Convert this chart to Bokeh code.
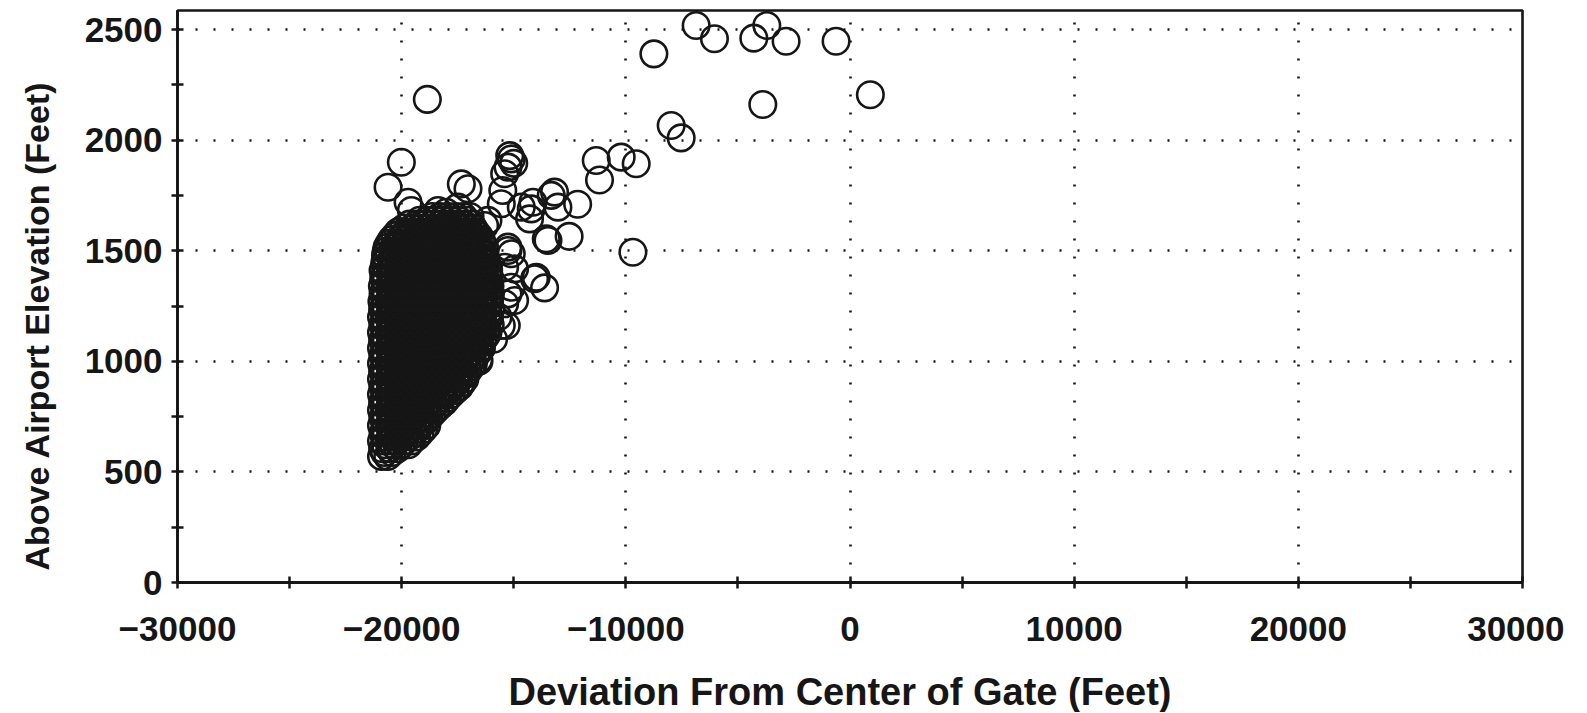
import math
from bokeh.plotting import figure
from bokeh.models import FixedTicker, Label, ColumnDataSource
from bokeh.layouts import row, column
from bokeh.embed import file_html
from bokeh.resources import INLINE

# ---- axis ticks ----
x_ticks = [-30000, -20000, -10000, 0, 10000, 20000, 30000]
x_tick_labels = ["\u221230000", "\u221220000", "\u221210000", "0", "10000", "20000", "30000"]
x_minor = [-25000, -15000, -5000, 5000, 15000, 25000]
y_ticks = [0, 500, 1000, 1500, 2000, 2500]
y_tick_labels = ["0", "500", "1000", "1500", "2000", "2500"]
y_minor = [250, 750, 1250, 1750, 2250]

x_title = "Deviation From Center of Gate (Feet)"
y_title = "Above Airport Elevation (Feet)"

# ---- dense cluster, read row by row (altitude -> deviations) ----
blob_y = [570, 605, 640, 675, 710, 745, 780, 815, 850, 885, 920, 955, 990, 1025,
          1060, 1095, 1130, 1165, 1200, 1235, 1270, 1305, 1340, 1375, 1410, 1445,
          1480, 1515, 1550, 1585, 1620, 1655]
blob_x = [
    [-20900, -20620],
    [-20850, -20520, -20180],
    [-20900, -20560, -20230, -19880, -19560],
    [-20830, -20480, -20140, -19800, -19460, -19180],
    [-20900, -20560, -20210, -19870, -19530, -19180, -18880],
    [-20840, -20490, -20150, -19800, -19460, -19110, -18790],
    [-20900, -20550, -20220, -19870, -19520, -19180, -18830, -18480],
    [-20850, -20500, -20160, -19810, -19460, -19120, -18770, -18420, -18100],
    [-20900, -20560, -20210, -19870, -19520, -19170, -18830, -18480, -18140, -17800],
    [-20840, -20500, -20150, -19800, -19460, -19110, -18760, -18420, -18070, -17730, -17420],
    [-20900, -20560, -20210, -19860, -19520, -19170, -18830, -18480, -18130, -17790, -17440, -17180],
    [-20850, -20500, -20150, -19810, -19460, -19120, -18770, -18420, -18080, -17730, -17390, -17050],
    [-20900, -20550, -20200, -19860, -19510, -19170, -18820, -18480, -18130, -17780, -17440, -17090, -16800],
    [-20840, -20490, -20150, -19800, -19460, -19110, -18760, -18420, -18070, -17730, -17380, -17040, -16700],
    [-20900, -20560, -20210, -19870, -19520, -19170, -18830, -18480, -18140, -17790, -17440, -17100, -16750, -16450],
    [-20850, -20500, -20160, -19810, -19470, -19120, -18780, -18430, -18080, -17740, -17390, -17050, -16700, -16380],
    [-20900, -20550, -20210, -19860, -19510, -19170, -18820, -18480, -18130, -17790, -17440, -17090, -16750, -16400, -16150],
    [-20840, -20500, -20150, -19810, -19460, -19110, -18770, -18420, -18080, -17730, -17390, -17040, -16690, -16350, -16050],
    [-20900, -20550, -20210, -19860, -19520, -19170, -18820, -18480, -18130, -17790, -17440, -17100, -16750, -16400, -16080],
    [-20850, -20500, -20160, -19810, -19470, -19120, -18780, -18430, -18090, -17740, -17390, -17050, -16700, -16360, -16030],
    [-20880, -20550, -20210, -19860, -19520, -19170, -18830, -18480, -18140, -17790, -17450, -17100, -16760, -16410, -16080],
    [-20830, -20490, -20150, -19800, -19460, -19110, -18770, -18420, -18080, -17730, -17390, -17040, -16700, -16350, -16040],
    [-20860, -20530, -20190, -19840, -19500, -19150, -18810, -18460, -18120, -17770, -17430, -17080, -16740, -16390, -16060],
    [-20800, -20470, -20130, -19780, -19440, -19090, -18750, -18400, -18060, -17710, -17370, -17020, -16680, -16340, -16100],
    [-20830, -20500, -20160, -19820, -19470, -19130, -18780, -18440, -18090, -17750, -17400, -17060, -16710, -16380, -16120],
    [-20760, -20430, -20090, -19750, -19400, -19060, -18710, -18370, -18020, -17680, -17330, -16990, -16650, -16330],
    [-20720, -20390, -20050, -19710, -19360, -19020, -18670, -18330, -17980, -17640, -17290, -16950, -16600, -16350],
    [-20650, -20330, -19990, -19650, -19300, -18960, -18610, -18270, -17920, -17580, -17230, -16890, -16560, -16300],
    [-20450, -20120, -19780, -19440, -19090, -18750, -18400, -18060, -17710, -17370, -17020, -16680, -16450],
    [-20150, -19800, -19460, -19110, -18770, -18420, -18080, -17730, -17390, -17040, -16700],
    [-19650, -19300, -18950, -18600, -18260, -17910, -17570, -17220, -16900],
    [-18650, -18300, -17950, -17600, -17250, -16950],
]

# in-between rows of the same cluster
blob2_y = [588, 623, 658, 693, 728, 763, 798, 833, 868, 903, 938, 973, 1008, 1043,
           1078, 1113, 1148, 1183, 1218, 1253, 1288, 1323, 1358, 1393, 1428, 1463,
           1498, 1533, 1568, 1603, 1638]
blob2_x = [
    [-20760, -20420],
    [-20720, -20370, -20020, -19700],
    [-20720, -20370, -20020, -19670, -19330],
    [-20720, -20370, -20020, -19670, -19320, -19020],
    [-20720, -20370, -20020, -19670, -19320, -18970],
    [-20720, -20370, -20020, -19670, -19320, -18970, -18640],
    [-20720, -20370, -20020, -19670, -19320, -18970, -18620, -18290],
    [-20720, -20370, -20020, -19670, -19320, -18970, -18620, -18270, -17960],
    [-20720, -20370, -20020, -19670, -19320, -18970, -18620, -18270, -17920, -17610],
    [-20720, -20370, -20020, -19670, -19320, -18970, -18620, -18270, -17920, -17570, -17300],
    [-20720, -20370, -20020, -19670, -19320, -18970, -18620, -18270, -17920, -17570, -17220],
    [-20720, -20370, -20020, -19670, -19320, -18970, -18620, -18270, -17920, -17570, -17220, -16920],
    [-20720, -20370, -20020, -19670, -19320, -18970, -18620, -18270, -17920, -17570, -17220, -16870, -16560],
    [-20720, -20370, -20020, -19670, -19320, -18970, -18620, -18270, -17920, -17570, -17220, -16870, -16570],
    [-20720, -20370, -20020, -19670, -19320, -18970, -18620, -18270, -17920, -17570, -17220, -16870, -16520],
    [-20720, -20370, -20020, -19670, -19320, -18970, -18620, -18270, -17920, -17570, -17220, -16870, -16520, -16250],
    [-20720, -20370, -20020, -19670, -19320, -18970, -18620, -18270, -17920, -17570, -17220, -16870, -16520, -16200],
    [-20720, -20370, -20020, -19670, -19320, -18970, -18620, -18270, -17920, -17570, -17220, -16870, -16520, -16170],
    [-20720, -20370, -20020, -19670, -19320, -18970, -18620, -18270, -17920, -17570, -17220, -16870, -16520, -16170],
    [-20720, -20370, -20020, -19670, -19320, -18970, -18620, -18270, -17920, -17570, -17220, -16870, -16520, -16170],
    [-20720, -20370, -20020, -19670, -19320, -18970, -18620, -18270, -17920, -17570, -17220, -16870, -16520, -16170],
    [-20720, -20370, -20020, -19670, -19320, -18970, -18620, -18270, -17920, -17570, -17220, -16870, -16520, -16170],
    [-20720, -20370, -20020, -19670, -19320, -18970, -18620, -18270, -17920, -17570, -17220, -16870, -16520, -16170],
    [-20720, -20370, -20020, -19670, -19320, -18970, -18620, -18270, -17920, -17570, -17220, -16870, -16520, -16170],
    [-20720, -20370, -20020, -19670, -19320, -18970, -18620, -18270, -17920, -17570, -17220, -16870, -16520, -16250],
    [-20720, -20370, -20020, -19670, -19320, -18970, -18620, -18270, -17920, -17570, -17220, -16870, -16520, -16330],
    [-20690, -20370, -20020, -19670, -19320, -18970, -18620, -18270, -17920, -17570, -17220, -16870, -16520, -16380],
    [-20560, -20200, -19850, -19500, -19150, -18800, -18450, -18100, -17750, -17400, -17050, -16700, -16420],
    [-20300, -19950, -19600, -19250, -18900, -18550, -18200, -17850, -17500, -17150, -16800, -16560],
    [-19900, -19550, -19200, -18850, -18500, -18150, -17800, -17450, -17100, -16800],
    [-19200, -18850, -18500, -18150, -17800, -17450, -17100],
]

# ---- individually readable points ----
sparse_x = [-8749, -6863, -6047, -4291, -3711, -2851, -622, -3890, 908, -7977,
            -7532, -9685, -11321, -10206, -9538, -11174, -12150, -12530, -13180, -13550,
            -14219, -14071, -13625, -15333, -15110, -15257, -15406, -15000, -15180, -15490,
            -15556, -14664, -14143, -13327, -13030, -13474, -14295, -18855, -20014, -20607,
            -19715, -19568, -17339, -17041, -18008, -17486, -18378, -16300, -16151, -15257,
            -15110, -13996, -14963, -15257, -14963, -15406, -15110, -15406, -15556, -15257,
            -15900, -15700, -16550, -16450]
sparse_y = [2390, 2518, 2458, 2461, 2518, 2447, 2447, 2161, 2205, 2066,
            2010, 1493, 1908, 1923, 1893, 1820, 1710, 1565, 1765, 1554,
            1689, 1373, 1332, 1162, 1915, 1878, 1848, 1895, 1930, 1772,
            1712, 1697, 1719, 1750, 1697, 1546, 1644, 2184, 1900, 1787,
            1719, 1682, 1802, 1780, 1674, 1697, 1682, 1614, 1637, 1516,
            1486, 1380, 1418, 1305, 1275, 1425, 1335, 1260, 1162, 1501,
            1100, 1200, 1000, 1060]

xs = ([x for r in blob_x for x in r] + [x for r in blob2_x for x in r] + sparse_x)
ys = ([y for y, r in zip(blob_y, blob_x) for _ in r]
      + [y for y, r in zip(blob2_y, blob2_x) for _ in r] + sparse_y)
src = ColumnDataSource(dict(x=xs, y=ys))

INK = "#161616"
FONT = "Liberation Sans"
TITLE_W = 60
MAIN_H = 660

# ---- main plot ----
p = figure(width=1564 - TITLE_W, height=MAIN_H, x_range=(-30000, 30000), y_range=(0, 2586),
           output_backend="svg", toolbar_location=None,
           min_border_left=177 - TITLE_W, min_border_right=42, min_border_top=10,
           min_border_bottom=MAIN_H - 582,
           background_fill_color="white", border_fill_color="white")

p.scatter("x", "y", source=src, marker="circle", size=26.5, fill_color=None,
          line_color=INK, line_width=2.6)

p.outline_line_color = INK
p.outline_line_width = 2.6
p.outline_line_alpha = 1

p.xaxis.ticker = FixedTicker(ticks=x_ticks, minor_ticks=x_minor)
p.yaxis.ticker = FixedTicker(ticks=y_ticks, minor_ticks=y_minor)
p.xaxis.major_label_overrides = {t: l for t, l in zip(x_ticks, x_tick_labels)}
p.yaxis.major_label_overrides = {t: l for t, l in zip(y_ticks, y_tick_labels)}

for ax in (p.xaxis[0], p.yaxis[0]):
    ax.axis_line_color = INK
    ax.axis_line_width = 2.8
    ax.major_tick_line_color = INK
    ax.major_tick_line_width = 2.5
    ax.minor_tick_line_color = INK
    ax.minor_tick_line_width = 2.5
    ax.major_tick_in = 6
    ax.major_tick_out = 6
    ax.minor_tick_in = 6
    ax.minor_tick_out = 6
    ax.major_label_text_font = FONT
    ax.major_label_text_font_style = "bold"
    ax.major_label_text_font_size = "35px"
    ax.major_label_text_color = INK

p.xaxis.major_label_standoff = 28
p.yaxis.major_label_standoff = 9

for g in (p.xgrid[0], p.ygrid[0]):
    g.grid_line_color = INK
    g.grid_line_width = 2.6
    g.grid_line_dash = "2 16"


def title_panel(w, h):
    f = figure(width=w, height=h, output_backend="svg", toolbar_location=None,
               x_axis_location=None, y_axis_location=None, min_border=0,
               x_range=(0, 1), y_range=(0, 1),
               background_fill_color="white", border_fill_color="white")
    f.outline_line_color = None
    f.grid.visible = False
    return f


# ---- y-axis title (left strip; its frame lines up with the main frame, 10..582) ----
pt = title_panel(TITLE_W, MAIN_H)
pt.add_layout(Label(x=36, y=12, x_units="screen", y_units="screen", text=y_title,
                    angle=math.pi / 2, text_align="left", text_baseline="middle",
                    text_font=FONT, text_font_style="bold", text_font_size="34px",
                    text_color=INK))

# ---- x-axis title (bottom strip, page y 660..712) ----
BOT_H = 712 - MAIN_H
pb = title_panel(1564, BOT_H)
pb.add_layout(Label(x=508, y=712 - 691, x_units="screen", y_units="screen", text=x_title,
                    text_align="left", text_baseline="middle",
                    text_font=FONT, text_font_style="bold", text_font_size="38px",
                    text_color=INK))

layout = column(row(pt, p, spacing=0), pb, spacing=0)
open("out.html", "w").write(file_html(layout, INLINE))
